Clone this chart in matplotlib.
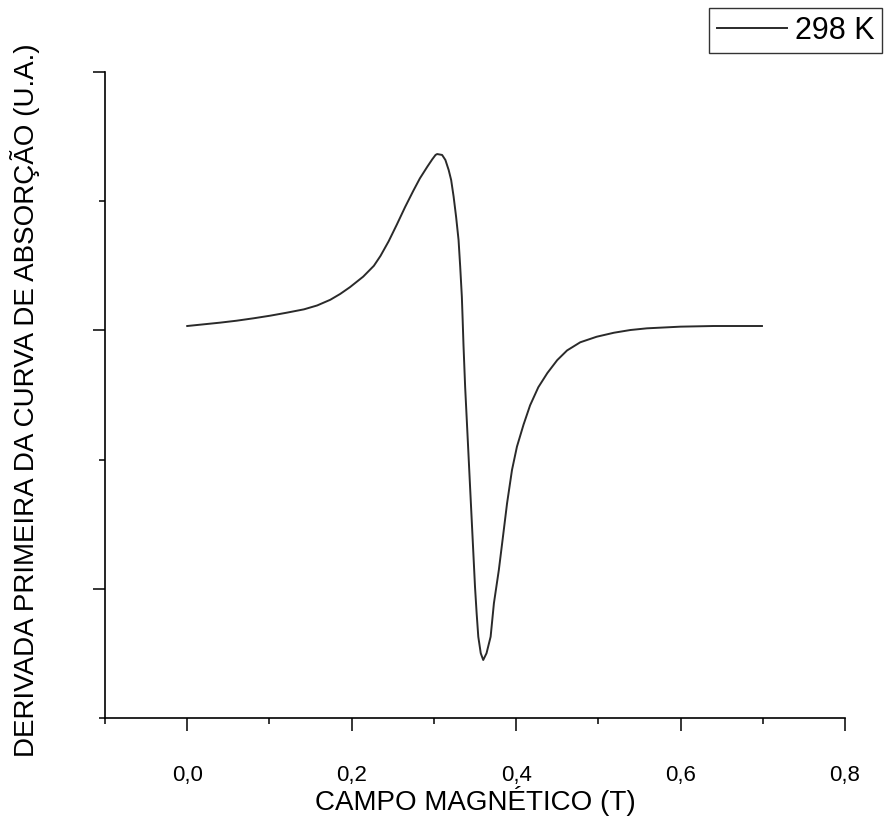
import matplotlib
matplotlib.use("Agg")
import matplotlib.pyplot as plt
from matplotlib.ticker import FixedLocator, FixedFormatter, MultipleLocator, NullFormatter

plt.rcParams['font.family'] = ['Liberation Sans', 'DejaVu Sans']

# EPR spectrum: first derivative of absorption vs. magnetic field
field_T = [0.000, 0.020, 0.040, 0.060, 0.081, 0.101, 0.121, 0.142, 0.158, 0.174,
           0.186, 0.198, 0.214, 0.227, 0.235, 0.245, 0.255, 0.265, 0.275, 0.283,
           0.292, 0.298, 0.302, 0.304, 0.310, 0.314, 0.318, 0.321, 0.324, 0.327,
           0.330, 0.332, 0.334, 0.335, 0.336, 0.338, 0.340, 0.342, 0.344, 0.346,
           0.348, 0.350, 0.352, 0.354, 0.357, 0.360, 0.364, 0.369, 0.373, 0.379,
           0.384, 0.389, 0.395, 0.401, 0.409, 0.417, 0.427, 0.438, 0.450, 0.462,
           0.478, 0.498, 0.519, 0.539, 0.559, 0.600, 0.640, 0.699]
signal = [0.034, 0.047, 0.060, 0.075, 0.094, 0.114, 0.137, 0.163, 0.193, 0.237,
          0.282, 0.335, 0.416, 0.500, 0.576, 0.690, 0.820, 0.955, 1.081, 1.177,
          1.267, 1.324, 1.358, 1.365, 1.358, 1.319, 1.241, 1.164, 1.035, 0.880,
          0.700, 0.493, 0.261, 0.080, -0.113, -0.436, -0.693, -0.951, -1.210, -1.467,
          -1.725, -1.984, -2.190, -2.371, -2.499, -2.551, -2.499, -2.371, -2.112, -1.854,
          -1.597, -1.338, -1.080, -0.900, -0.730, -0.580, -0.440, -0.330, -0.230, -0.155,
          -0.092, -0.049, -0.018, 0.003, 0.016, 0.029, 0.034, 0.034]
series_label = "298 K"

x_ticks = [0.0, 0.2, 0.4, 0.6, 0.8]
x_tick_labels = ["0,0", "0,2", "0,4", "0,6", "0,8"]
x_minor = [-0.1, 0.1, 0.3, 0.5, 0.7]

fig = plt.figure(figsize=(8.84, 8.16), dpi=100)
ax = fig.add_axes([105/884, 1 - 718/816, 740/884, (718 - 72)/816])

line, = ax.plot(field_T, signal, color='#2a2a2a', lw=1.4, label=series_label,
                solid_joinstyle='round')

ax.set_xlim(-0.1, 0.8)
ax.set_ylim(-3, 2)

ax.xaxis.set_major_locator(FixedLocator(x_ticks))
ax.xaxis.set_major_formatter(FixedFormatter(x_tick_labels))
ax.xaxis.set_minor_locator(FixedLocator(x_minor))
ax.yaxis.set_major_locator(MultipleLocator(2))
ax.yaxis.set_minor_locator(FixedLocator([-3, -1, 1]))
ax.yaxis.set_major_formatter(NullFormatter())

for side in ('top', 'right'):
    ax.spines[side].set_visible(False)
for side in ('left', 'bottom'):
    ax.spines[side].set_linewidth(1.2)
    ax.spines[side].set_color('black')

ax.tick_params(which='major', direction='out', length=9, width=1.1, labelsize=16, pad=25)
ax.tick_params(which='minor', direction='out', length=4, width=1.1)

ax.set_xlabel("CAMPO MAGNÉTICO (T)", fontsize=20, va='top')
ax.xaxis.set_label_coords(0.5, (718 - 786) / 646)
ax.set_ylabel("DERIVADA PRIMEIRA DA CURVA DE ABSORÇÃO (U.A.)", fontsize=20, va='center')
ax.yaxis.set_label_coords((25 - 105) / 740, 0.5 - 5 / 646)

leg = fig.legend(handles=[line], loc='upper right', bbox_to_anchor=(882/884, 1 - 8/816),
                 fontsize=22, frameon=True, fancybox=False, handlelength=2.3,
                 handletextpad=0.25, borderpad=0.25, borderaxespad=0)
leg.get_frame().set_edgecolor('black')
leg.get_frame().set_linewidth(1.0)

fig.savefig("out.png", dpi=100)
